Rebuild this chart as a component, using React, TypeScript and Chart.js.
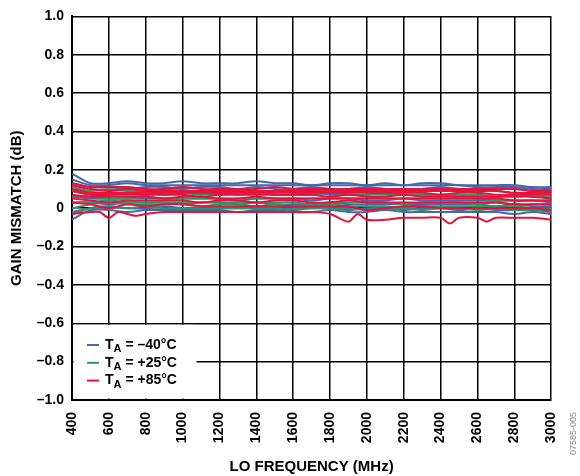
import { useEffect, useRef } from 'react';
import { Chart, registerables } from 'chart.js';

Chart.register(...registerables);

// ---------- data ----------
const FREQ_MHZ = [400, 500, 600, 700, 800, 900, 1000, 1100, 1200, 1300, 1400, 1500, 1600, 1700, 1800, 1900, 2000, 2100, 2200, 2300, 2400, 2500, 2600, 2700, 2800, 2900, 3000];

const X_TICKS = [400, 600, 800, 1000, 1200, 1400, 1600, 1800, 2000, 2200, 2400, 2600, 2800, 3000];
const Y_TICK_LABELS = ['–1.0', '–0.8', '–0.6', '–0.4', '–0.2', '0', '0.2', '0.4', '0.6', '0.8', '1.0'];

const LEGEND_LABELS = [' = –40°C', ' = +25°C', ' = +85°C'];
const COLORS = ['#4668AB', '#2E9665', '#E2143D'];

// TA = -40°C traces
const M40_1 = [0.18, 0.13, 0.13, 0.14, 0.13, 0.13, 0.14, 0.13, 0.13, 0.13, 0.14, 0.13, 0.13, 0.12, 0.13, 0.13, 0.12, 0.13, 0.12, 0.13, 0.13, 0.12, 0.12, 0.12, 0.12, 0.11, 0.11];
const M40_2 = [0.15, 0.12, 0.12, 0.13, 0.12, 0.12, 0.12, 0.12, 0.12, 0.12, 0.12, 0.12, 0.12, 0.12, 0.12, 0.12, 0.12, 0.12, 0.12, 0.12, 0.12, 0.12, 0.11, 0.11, 0.11, 0.10, 0.10];
const M40_3 = [0.13, 0.11, 0.11, 0.10, 0.11, 0.11, 0.10, 0.11, 0.11, 0.10, 0.11, 0.10, 0.10, 0.11, 0.10, 0.10, 0.11, 0.10, 0.10, 0.10, 0.11, 0.10, 0.10, 0.10, 0.10, 0.09, 0.09];
const M40_4 = [0.09, 0.08, 0.07, 0.08, 0.08, 0.07, 0.08, 0.08, 0.07, 0.08, 0.08, 0.07, 0.07, 0.08, 0.07, 0.07, 0.07, 0.08, 0.07, 0.07, 0.07, 0.07, 0.07, 0.06, 0.07, 0.06, 0.06];
const M40_5 = [0.06, 0.05, 0.05, 0.05, 0.05, 0.05, 0.05, 0.05, 0.05, 0.04, 0.05, 0.05, 0.05, 0.04, 0.05, 0.05, 0.04, 0.04, 0.05, 0.04, 0.04, 0.04, 0.04, 0.04, 0.04, 0.04, 0.03];
const M40_6 = [0.03, 0.03, 0.02, 0.03, 0.03, 0.03, 0.02, 0.03, 0.03, 0.02, 0.03, 0.02, 0.02, 0.02, 0.03, 0.02, 0.02, 0.02, 0.02, 0.02, 0.02, 0.02, 0.02, 0.01, 0.02, 0.01, 0.01];
const M40_7 = [-0.02, 0.00, 0.01, 0.00, 0.00, 0.01, 0.00, 0.00, 0.00, 0.00, 0.00, 0.00, -0.01, 0.00, 0.00, -0.01, 0.00, 0.00, -0.01, 0.00, 0.00, -0.01, 0.00, -0.01, -0.01, -0.01, -0.02];
const M40_8 = [-0.06, -0.01, -0.01, -0.02, -0.01, -0.01, -0.01, -0.01, -0.01, -0.02, -0.01, -0.01, -0.02, -0.02, -0.01, -0.02, -0.02, -0.01, -0.02, -0.02, -0.02, -0.02, -0.02, -0.02, -0.03, -0.02, -0.03];

// TA = +25°C traces
const P25_1 = [0.11, 0.09, 0.10, 0.09, 0.09, 0.10, 0.09, 0.09, 0.09, 0.09, 0.09, 0.09, 0.09, 0.09, 0.09, 0.09, 0.09, 0.09, 0.09, 0.10, 0.09, 0.09, 0.09, 0.09, 0.08, 0.08, 0.08];
const P25_2 = [0.09, 0.08, 0.08, 0.08, 0.07, 0.08, 0.08, 0.07, 0.08, 0.07, 0.08, 0.07, 0.07, 0.07, 0.08, 0.07, 0.07, 0.07, 0.07, 0.07, 0.07, 0.07, 0.07, 0.06, 0.07, 0.06, 0.06];
const P25_3 = [0.06, 0.06, 0.05, 0.05, 0.06, 0.05, 0.05, 0.05, 0.05, 0.05, 0.05, 0.05, 0.05, 0.05, 0.05, 0.05, 0.05, 0.05, 0.05, 0.05, 0.05, 0.05, 0.05, 0.04, 0.04, 0.04, 0.04];
const P25_4 = [0.03, 0.03, 0.04, 0.03, 0.03, 0.03, 0.03, 0.03, 0.03, 0.03, 0.03, 0.03, 0.03, 0.02, 0.03, 0.03, 0.03, 0.03, 0.02, 0.03, 0.03, 0.03, 0.02, 0.03, 0.02, 0.02, 0.02];
const P25_5 = [0.00, 0.02, 0.03, 0.02, 0.02, 0.02, 0.02, 0.01, 0.02, 0.02, 0.01, 0.02, 0.01, 0.01, 0.02, 0.01, 0.01, 0.01, 0.00, 0.01, 0.01, 0.01, 0.01, 0.01, 0.01, 0.00, 0.00];
const P25_6 = [-0.03, 0.00, 0.01, 0.00, 0.01, 0.00, 0.00, 0.00, 0.00, 0.00, 0.00, 0.00, 0.00, 0.00, 0.00, 0.00, -0.01, 0.00, 0.00, -0.01, 0.00, 0.00, -0.01, 0.00, -0.01, -0.01, -0.01];

// TA = +85°C traces
const P85_1 = [0.13, 0.11, 0.11, 0.11, 0.10, 0.10, 0.11, 0.10, 0.10, 0.10, 0.10, 0.11, 0.10, 0.10, 0.10, 0.10, 0.10, 0.10, 0.10, 0.10, 0.10, 0.10, 0.10, 0.10, 0.10, 0.09, 0.09];
const P85_2 = [0.12, 0.10, 0.09, 0.10, 0.09, 0.09, 0.09, 0.09, 0.09, 0.09, 0.09, 0.09, 0.09, 0.09, 0.09, 0.09, 0.09, 0.09, 0.09, 0.09, 0.09, 0.09, 0.09, 0.09, 0.08, 0.08, 0.08];
const P85_3 = [0.10, 0.08, 0.08, 0.08, 0.08, 0.08, 0.08, 0.08, 0.08, 0.08, 0.08, 0.08, 0.08, 0.08, 0.08, 0.08, 0.08, 0.08, 0.08, 0.08, 0.07, 0.08, 0.08, 0.07, 0.07, 0.07, 0.07];
const P85_4 = [0.09, 0.07, 0.07, 0.07, 0.07, 0.07, 0.07, 0.06, 0.07, 0.07, 0.07, 0.07, 0.07, 0.07, 0.06, 0.07, 0.06, 0.06, 0.07, 0.06, 0.06, 0.06, 0.06, 0.06, 0.06, 0.06, 0.05];
const P85_5 = [0.07, 0.06, 0.06, 0.06, 0.06, 0.05, 0.06, 0.06, 0.05, 0.05, 0.06, 0.05, 0.05, 0.05, 0.05, 0.05, 0.05, 0.05, 0.05, 0.05, 0.05, 0.05, 0.05, 0.05, 0.04, 0.04, 0.04];
const P85_6 = [0.05, 0.04, 0.03, 0.04, 0.04, 0.04, 0.04, 0.03, 0.04, 0.04, 0.03, 0.04, 0.04, 0.03, 0.03, 0.04, 0.03, 0.03, 0.03, 0.03, 0.03, 0.03, 0.03, 0.03, 0.02, 0.02, 0.02];
const P85_7 = [0.03, 0.02, 0.00, 0.02, 0.01, 0.02, 0.02, 0.01, 0.01, 0.01, 0.01, 0.01, 0.01, 0.01, 0.01, 0.01, -0.01, 0.00, 0.01, 0.01, 0.00, 0.00, 0.00, 0.00, 0.00, 0.00, -0.01];
// lowest +85°C trace, sampled more finely around its dips
const P85_8_FREQ = [400, 500, 550, 600, 650, 700, 750, 800, 900, 1000, 1100, 1200, 1300, 1400, 1500, 1600, 1700, 1800, 1900, 1950, 2000, 2100, 2200, 2300, 2400, 2450, 2500, 2600, 2650, 2700, 2800, 2900, 3000];
const P85_8 = [-0.03, -0.02, -0.02, -0.05, -0.02, -0.03, -0.04, -0.03, -0.02, -0.02, -0.02, -0.02, -0.02, -0.02, -0.02, -0.02, -0.02, -0.03, -0.07, -0.03, -0.06, -0.06, -0.05, -0.05, -0.05, -0.08, -0.05, -0.05, -0.07, -0.05, -0.05, -0.05, -0.06];

const GROUPS: { color: string; traces: { freq: number[]; vals: number[] }[] }[] = [
  {
    color: COLORS[2],
    traces: [P85_1, P85_2, P85_3, P85_4, P85_5, P85_6, P85_7].map((v) => ({ freq: FREQ_MHZ, vals: v })).concat([{ freq: P85_8_FREQ, vals: P85_8 }]),
  },
  {
    color: COLORS[1],
    traces: [P25_1, P25_2, P25_3, P25_4, P25_5, P25_6].map((v) => ({ freq: FREQ_MHZ, vals: v })),
  },
  {
    color: COLORS[0],
    traces: [M40_1, M40_2, M40_3, M40_4, M40_5, M40_6, M40_7, M40_8].map((v) => ({ freq: FREQ_MHZ, vals: v })),
  },
];

const FONT = '"Liberation Sans", Arial, Helvetica, sans-serif';

const legendPlugin = {
  id: 'insetLegend',
  afterDatasetsDraw(chart: any) {
    const { ctx, chartArea } = chart;
    const yScale = chart.scales.y;
    const left = chartArea.left;
    const bottom = chartArea.bottom;
    const top = yScale.getPixelForValue(-0.6);
    ctx.save();
    ctx.fillStyle = '#ffffff';
    ctx.fillRect(left + 1.5, top + 1.5, 123, bottom - top - 3);
    ctx.textBaseline = 'middle';
    ctx.textAlign = 'left';
    LEGEND_LABELS.forEach((label, i) => {
      const y = bottom - 55 + i * 17.8;
      ctx.strokeStyle = COLORS[i];
      ctx.lineWidth = 2;
      ctx.beginPath();
      ctx.moveTo(left + 15, y);
      ctx.lineTo(left + 27, y);
      ctx.stroke();
      ctx.fillStyle = '#000';
      let x = left + 33;
      ctx.font = `bold 14px ${FONT}`;
      ctx.fillText('T', x, y);
      x += ctx.measureText('T').width;
      ctx.font = `bold 11px ${FONT}`;
      ctx.fillText('A', x, y + 4);
      x += ctx.measureText('A').width;
      ctx.font = `bold 14px ${FONT}`;
      ctx.fillText(label, x, y);
    });
    ctx.restore();
  },
  afterDraw(chart: any) {
    const { ctx } = chart;
    ctx.save();
    ctx.translate(574, 412);
    ctx.rotate(-Math.PI / 2);
    ctx.font = `9px ${FONT}`;
    ctx.fillStyle = '#8a8a8a';
    ctx.textAlign = 'right';
    ctx.textBaseline = 'middle';
    ctx.fillText('07585-005', 0, 0);
    ctx.restore();
  },
};

export default function App() {
  const ref = useRef<HTMLCanvasElement>(null);
  useEffect(() => {
    document.body.style.margin = '0';
    const datasets: any[] = [];
    GROUPS.forEach((g) => {
      g.traces.forEach((t) => {
        datasets.push({
          data: t.freq.map((f, i) => ({ x: f, y: t.vals[i] })),
          borderColor: g.color,
          borderWidth: 2,
          pointRadius: 0,
          tension: 0.3,
          fill: false,
        });
      });
    });
    const chart = new Chart(ref.current!, {
      type: 'line',
      data: { datasets },
      plugins: [legendPlugin],
      options: {
        animation: false,
        responsive: false,
        devicePixelRatio: 1,
        layout: { padding: { left: 0, top: 16, right: 28.5, bottom: 0 } },
        plugins: { legend: { display: false }, tooltip: { enabled: false } },
        scales: {
          x: {
            type: 'linear',
            min: 400,
            max: 3000,
            afterBuildTicks: (scale: any) => {
              scale.ticks = X_TICKS.map((v) => ({ value: v }));
            },
            afterFit: (scale: any) => {
              scale.height = 76;
            },
            ticks: {
              autoSkip: false,
              maxRotation: 90,
              minRotation: 90,
              padding: 12,
              color: '#000',
              font: { family: FONT, size: 14, weight: 'bold' },
              callback: (v: any) => String(v),
            },
            grid: { color: '#000', lineWidth: 1.5, drawTicks: false },
            border: { color: '#000', width: 2 },
            title: {
              display: true,
              text: 'LO FREQUENCY (MHz)',
              color: '#000',
              font: { family: FONT, size: 15, weight: 'bold' },
              padding: { top: 0, bottom: 0 },
            },
          },
          y: {
            min: -1,
            max: 1,
            afterFit: (scale: any) => {
              scale.width = 72;
            },
            ticks: {
              stepSize: 0.2,
              padding: 8,
              color: '#000',
              font: { family: FONT, size: 14, weight: 'bold' },
              callback: (v: any) => Y_TICK_LABELS[Math.round((Number(v) + 1) / 0.2)],
            },
            grid: { color: '#000', lineWidth: 1.5, drawTicks: false },
            border: { color: '#000', width: 2 },
            title: {
              display: true,
              text: 'GAIN MISMATCH (dB)',
              color: '#000',
              font: { family: FONT, size: 15, weight: 'bold' },
              padding: { top: 8, bottom: 0 },
            },
          },
        },
      },
    });
    return () => chart.destroy();
  }, []);
  return <canvas ref={ref} width={580} height={476} style={{ display: 'block', width: 580, height: 476 }} />;
}
